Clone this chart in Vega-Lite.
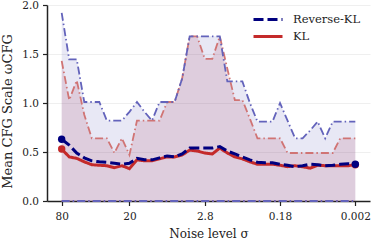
{
  "$schema": "https://vega.github.io/schema/vega-lite/v6.json",
  "width": 323,
  "height": 196,
  "autosize": {"type": "none"},
  "padding": {"left": 47, "top": 5, "right": 3, "bottom": 40},
  "config": {
    "view": {"stroke": null},
    "font": "DejaVu Serif",
    "axis": {
      "labelFont": "DejaVu Serif",
      "titleFont": "DejaVu Serif",
      "labelFontSize": 10.5,
      "titleFontSize": 12,
      "titleFontWeight": "normal",
      "labelColor": "#222222",
      "titleColor": "#222222",
      "domainColor": "#222222",
      "domainWidth": 1.5,
      "tickColor": "#222222",
      "tickWidth": 1.2,
      "tickSize": 4.5
    },
    "legend": {
      "labelFont": "DejaVu Serif",
      "labelFontSize": 11.5,
      "labelColor": "#222222"
    }
  },
  "data": {
    "values": [
      {"step": 0, "method": "Reverse-KL", "mean": 0.63, "upper": 1.92, "lower": 0},
      {"step": 1, "method": "Reverse-KL", "mean": 0.57, "upper": 1.445, "lower": 0},
      {"step": 2, "method": "Reverse-KL", "mean": 0.49, "upper": 1.445, "lower": 0},
      {"step": 3, "method": "Reverse-KL", "mean": 0.44, "upper": 1.01, "lower": 0},
      {"step": 4, "method": "Reverse-KL", "mean": 0.41, "upper": 1.01, "lower": 0},
      {"step": 5, "method": "Reverse-KL", "mean": 0.40, "upper": 1.01, "lower": 0},
      {"step": 6, "method": "Reverse-KL", "mean": 0.395, "upper": 0.82, "lower": 0},
      {"step": 7, "method": "Reverse-KL", "mean": 0.385, "upper": 0.82, "lower": 0},
      {"step": 8, "method": "Reverse-KL", "mean": 0.375, "upper": 0.82, "lower": 0},
      {"step": 9, "method": "Reverse-KL", "mean": 0.385, "upper": 0.91, "lower": 0},
      {"step": 10, "method": "Reverse-KL", "mean": 0.435, "upper": 1.01, "lower": 0},
      {"step": 11, "method": "Reverse-KL", "mean": 0.42, "upper": 0.91, "lower": 0},
      {"step": 12, "method": "Reverse-KL", "mean": 0.42, "upper": 0.82, "lower": 0},
      {"step": 13, "method": "Reverse-KL", "mean": 0.44, "upper": 1.01, "lower": 0},
      {"step": 14, "method": "Reverse-KL", "mean": 0.46, "upper": 1.01, "lower": 0},
      {"step": 15, "method": "Reverse-KL", "mean": 0.45, "upper": 1.01, "lower": 0},
      {"step": 16, "method": "Reverse-KL", "mean": 0.48, "upper": 1.25, "lower": 0},
      {"step": 17, "method": "Reverse-KL", "mean": 0.54, "upper": 1.68, "lower": 0},
      {"step": 18, "method": "Reverse-KL", "mean": 0.54, "upper": 1.68, "lower": 0},
      {"step": 19, "method": "Reverse-KL", "mean": 0.54, "upper": 1.68, "lower": 0},
      {"step": 20, "method": "Reverse-KL", "mean": 0.54, "upper": 1.68, "lower": 0},
      {"step": 21, "method": "Reverse-KL", "mean": 0.555, "upper": 1.68, "lower": 0},
      {"step": 22, "method": "Reverse-KL", "mean": 0.51, "upper": 1.22, "lower": 0},
      {"step": 23, "method": "Reverse-KL", "mean": 0.48, "upper": 1.22, "lower": 0},
      {"step": 24, "method": "Reverse-KL", "mean": 0.45, "upper": 1.22, "lower": 0},
      {"step": 25, "method": "Reverse-KL", "mean": 0.42, "upper": 1.0, "lower": 0},
      {"step": 26, "method": "Reverse-KL", "mean": 0.395, "upper": 0.81, "lower": 0},
      {"step": 27, "method": "Reverse-KL", "mean": 0.39, "upper": 0.81, "lower": 0},
      {"step": 28, "method": "Reverse-KL", "mean": 0.39, "upper": 0.81, "lower": 0},
      {"step": 29, "method": "Reverse-KL", "mean": 0.375, "upper": 1.0, "lower": 0},
      {"step": 30, "method": "Reverse-KL", "mean": 0.365, "upper": 0.82, "lower": 0},
      {"step": 31, "method": "Reverse-KL", "mean": 0.35, "upper": 0.64, "lower": 0},
      {"step": 32, "method": "Reverse-KL", "mean": 0.36, "upper": 0.64, "lower": 0},
      {"step": 33, "method": "Reverse-KL", "mean": 0.375, "upper": 0.72, "lower": 0},
      {"step": 34, "method": "Reverse-KL", "mean": 0.37, "upper": 0.81, "lower": 0},
      {"step": 35, "method": "Reverse-KL", "mean": 0.36, "upper": 0.64, "lower": 0},
      {"step": 36, "method": "Reverse-KL", "mean": 0.365, "upper": 0.81, "lower": 0},
      {"step": 37, "method": "Reverse-KL", "mean": 0.375, "upper": 0.81, "lower": 0},
      {"step": 38, "method": "Reverse-KL", "mean": 0.38, "upper": 0.81, "lower": 0},
      {"step": 39, "method": "Reverse-KL", "mean": 0.375, "upper": 0.81, "lower": 0},
      {"step": 0, "method": "KL", "mean": 0.53, "upper": 1.43, "lower": 0},
      {"step": 1, "method": "KL", "mean": 0.45, "upper": 1.03, "lower": 0},
      {"step": 2, "method": "KL", "mean": 0.435, "upper": 1.23, "lower": 0},
      {"step": 3, "method": "KL", "mean": 0.40, "upper": 0.88, "lower": 0},
      {"step": 4, "method": "KL", "mean": 0.37, "upper": 0.64, "lower": 0},
      {"step": 5, "method": "KL", "mean": 0.365, "upper": 0.64, "lower": 0},
      {"step": 6, "method": "KL", "mean": 0.36, "upper": 0.64, "lower": 0},
      {"step": 7, "method": "KL", "mean": 0.34, "upper": 0.49, "lower": 0},
      {"step": 8, "method": "KL", "mean": 0.36, "upper": 0.64, "lower": 0},
      {"step": 9, "method": "KL", "mean": 0.33, "upper": 0.47, "lower": 0},
      {"step": 10, "method": "KL", "mean": 0.42, "upper": 0.82, "lower": 0},
      {"step": 11, "method": "KL", "mean": 0.41, "upper": 0.82, "lower": 0},
      {"step": 12, "method": "KL", "mean": 0.41, "upper": 0.82, "lower": 0},
      {"step": 13, "method": "KL", "mean": 0.43, "upper": 0.82, "lower": 0},
      {"step": 14, "method": "KL", "mean": 0.45, "upper": 1.01, "lower": 0},
      {"step": 15, "method": "KL", "mean": 0.45, "upper": 1.01, "lower": 0},
      {"step": 16, "method": "KL", "mean": 0.47, "upper": 1.25, "lower": 0},
      {"step": 17, "method": "KL", "mean": 0.52, "upper": 1.68, "lower": 0},
      {"step": 18, "method": "KL", "mean": 0.51, "upper": 1.68, "lower": 0},
      {"step": 19, "method": "KL", "mean": 0.49, "upper": 1.45, "lower": 0},
      {"step": 20, "method": "KL", "mean": 0.48, "upper": 1.45, "lower": 0},
      {"step": 21, "method": "KL", "mean": 0.54, "upper": 1.68, "lower": 0},
      {"step": 22, "method": "KL", "mean": 0.49, "upper": 1.35, "lower": 0},
      {"step": 23, "method": "KL", "mean": 0.45, "upper": 1.03, "lower": 0},
      {"step": 24, "method": "KL", "mean": 0.43, "upper": 1.03, "lower": 0},
      {"step": 25, "method": "KL", "mean": 0.40, "upper": 0.84, "lower": 0},
      {"step": 26, "method": "KL", "mean": 0.375, "upper": 0.64, "lower": 0},
      {"step": 27, "method": "KL", "mean": 0.375, "upper": 0.64, "lower": 0},
      {"step": 28, "method": "KL", "mean": 0.375, "upper": 0.64, "lower": 0},
      {"step": 29, "method": "KL", "mean": 0.365, "upper": 0.64, "lower": 0},
      {"step": 30, "method": "KL", "mean": 0.35, "upper": 0.49, "lower": 0},
      {"step": 31, "method": "KL", "mean": 0.36, "upper": 0.49, "lower": 0},
      {"step": 32, "method": "KL", "mean": 0.35, "upper": 0.49, "lower": 0},
      {"step": 33, "method": "KL", "mean": 0.335, "upper": 0.49, "lower": 0},
      {"step": 34, "method": "KL", "mean": 0.365, "upper": 0.49, "lower": 0},
      {"step": 35, "method": "KL", "mean": 0.36, "upper": 0.49, "lower": 0},
      {"step": 36, "method": "KL", "mean": 0.36, "upper": 0.49, "lower": 0},
      {"step": 37, "method": "KL", "mean": 0.36, "upper": 0.64, "lower": 0},
      {"step": 38, "method": "KL", "mean": 0.36, "upper": 0.64, "lower": 0},
      {"step": 39, "method": "KL", "mean": 0.37, "upper": 0.64, "lower": 0}
    ]
  },
  "encoding": {
    "x": {
      "field": "step",
      "type": "quantitative",
      "scale": {"domain": [-1.95, 40.95], "nice": false, "zero": false},
      "axis": {
        "values": [0, 9, 19, 29, 39],
        "labelExpr": "datum.value == 0 ? '80' : datum.value == 9 ? '20' : datum.value == 19 ? '2.8' : datum.value == 29 ? '0.18' : '0.002'",
        "grid": false,
        "title": "Noise level σ",
        "labelFont": "DejaVu Serif",
        "titleFont": "DejaVu Serif",
        "labelPadding": 6,
        "titlePadding": 6
      }
    },
    "y": {
      "field": "upper",
      "type": "quantitative",
      "scale": {"domain": [0, 2], "nice": false},
      "axis": {
        "values": [0, 0.5, 1, 1.5, 2],
        "format": ".1f",
        "grid": true,
        "gridColor": "#ebebeb",
        "gridWidth": 0.8,
        "title": "Mean CFG Scale ωCFG",
        "labelFont": "DejaVu Serif",
        "titleFont": "DejaVu Serif",
        "titleFontSize": 13,
        "titleY": 106,
        "labelPadding": 4,
        "titlePadding": 7
      }
    }
  },
  "layer": [
    {
      "transform": [{"filter": "datum.method == 'Reverse-KL'"}],
      "mark": {"type": "area", "color": "#5c5cb8", "opacity": 0.14},
      "encoding": {"y": {"field": "upper", "type": "quantitative"}, "y2": {"field": "lower"}}
    },
    {
      "transform": [{"filter": "datum.method == 'KL'"}],
      "mark": {"type": "area", "color": "#a8345a", "opacity": 0.15},
      "encoding": {"y": {"field": "upper", "type": "quantitative"}, "y2": {"field": "lower"}}
    },
    {
      "transform": [{"filter": "datum.method == 'KL'"}],
      "mark": {"type": "line", "color": "#d07474", "strokeWidth": 1.8, "strokeDash": [8, 3, 1.5, 3]},
      "encoding": {"y": {"field": "upper", "type": "quantitative"}}
    },
    {
      "transform": [{"filter": "datum.method == 'KL'"}],
      "mark": {"type": "line", "color": "#d07474", "strokeWidth": 1.8, "strokeDash": [8, 3, 1.5, 3]},
      "encoding": {"y": {"field": "lower", "type": "quantitative"}}
    },
    {
      "transform": [{"filter": "datum.method == 'Reverse-KL'"}],
      "mark": {"type": "line", "color": "#6363bb", "strokeWidth": 1.8, "strokeDash": [8, 3, 1.5, 3]},
      "encoding": {"y": {"field": "upper", "type": "quantitative"}}
    },
    {
      "transform": [{"filter": "datum.method == 'Reverse-KL'"}],
      "mark": {"type": "line", "color": "#6363bb", "strokeWidth": 1.8, "strokeDash": [8, 3, 1.5, 3]},
      "encoding": {"y": {"field": "lower", "type": "quantitative"}}
    },
    {
      "transform": [{"filter": "datum.method == 'KL'"}],
      "mark": {"type": "line", "strokeWidth": 3},
      "encoding": {
        "y": {"field": "mean", "type": "quantitative"},
        "color": {
          "field": "method",
          "type": "nominal",
          "scale": {"domain": ["Reverse-KL", "KL"], "range": ["#00007f", "#c42a2a"]},
          "legend": {
            "title": null,
            "orient": "none",
            "legendX": 205,
            "legendY": 6,
            "padding": 0,
            "symbolType": "stroke",
            "symbolSize": 841,
            "symbolStrokeWidth": 3,
            "labelOffset": 9,
            "rowPadding": 0,
            "clipHeight": 17,
            "labelFont": "DejaVu Serif",
            "labelFontSize": 11.5
          }
        },
        "strokeDash": {
          "field": "method",
          "type": "nominal",
          "scale": {"domain": ["Reverse-KL", "KL"], "range": [[10, 4], [1, 0]]},
          "legend": {
            "title": null,
            "orient": "none",
            "legendX": 205,
            "legendY": 6,
            "padding": 0,
            "symbolType": "stroke",
            "symbolSize": 841,
            "symbolStrokeWidth": 3,
            "labelOffset": 9,
            "rowPadding": 0,
            "clipHeight": 17,
            "labelFont": "DejaVu Serif",
            "labelFontSize": 11.5
          }
        }
      }
    },
    {
      "transform": [{"filter": "datum.method == 'Reverse-KL'"}],
      "mark": {"type": "line", "strokeWidth": 3},
      "encoding": {
        "y": {"field": "mean", "type": "quantitative"},
        "color": {"field": "method", "type": "nominal"},
        "strokeDash": {"field": "method", "type": "nominal"}
      }
    },
    {
      "transform": [{"filter": "datum.method == 'KL' && (datum.step == 0 || datum.step == 39)"}],
      "mark": {"type": "point", "filled": true, "opacity": 1, "size": 55, "color": "#c42a2a"},
      "encoding": {"y": {"field": "mean", "type": "quantitative"}}
    },
    {
      "transform": [{"filter": "datum.method == 'Reverse-KL' && (datum.step == 0 || datum.step == 39)"}],
      "mark": {"type": "point", "filled": true, "opacity": 1, "size": 55, "color": "#00007f"},
      "encoding": {"y": {"field": "mean", "type": "quantitative"}}
    }
  ]
}
